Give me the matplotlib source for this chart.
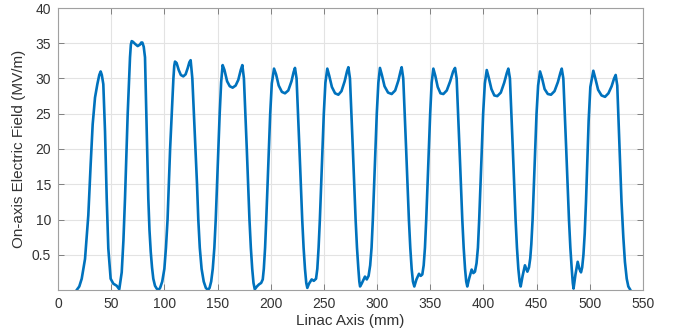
import matplotlib
matplotlib.use("Agg")
import matplotlib.pyplot as plt

# Linac axis position (mm) and on-axis field (MV/m)
z_mm = [
    17.6, 20.0, 22.3, 25.4, 28.5, 30.7, 32.6, 34.8, 37.0, 38.8, 40.1, 41.2, 42.6, 44.2, 45.8, 47.3,
    49.5, 52.0, 55.2, 57.6,
    59.9, 61.5, 63.0, 64.3, 65.5, 66.7, 67.7, 68.5, 69.3, 70.5, 72.5, 74.9, 77.0, 78.3, 79.3,
    80.6, 81.8, 82.6, 83.4, 84.9, 86.0, 87.2, 88.4, 89.6, 91.2, 92.8, 94.5,
    96.0, 98.0, 100.0, 101.5, 103.0, 104.2, 105.4, 107.0, 108.5, 109.3, 110.0,
    111.5, 113.5, 115.5, 117.8, 120.0, 122.0, 123.5, 124.7,
    126.3, 127.8, 129.4, 130.7, 131.9, 133.3, 135.0, 137.0, 139.0, 141.0,
    142.5, 144.0, 145.5, 147.0, 148.3, 149.5, 150.6, 152.0, 153.4, 154.8,
    156.5, 159.0, 161.5, 164.2, 167.0, 169.5, 171.8, 173.3,
    174.8, 176.2, 177.5, 178.8, 180.0, 181.3, 182.6, 183.8, 185.0,
    187.0, 189.0, 191.0, 192.5,
    193.5, 194.7, 195.8, 197.0, 198.2, 199.5, 201.0, 203.1,
    205.0, 207.5, 210.5, 213.4, 216.5, 219.5, 221.5, 222.8,
    224.3, 225.7, 227.0, 228.3, 229.6, 230.9, 232.2, 233.4, 234.4,
    236.0, 238.5, 240.5, 242.6,
    243.8, 245.0, 246.2, 247.4, 248.6, 249.9, 251.4, 253.2,
    255.0, 257.5, 260.5, 263.6, 266.5, 269.5, 271.7, 273.0,
    274.5, 275.9, 277.2, 278.5, 279.8, 281.1, 282.4, 283.3, 284.0,
    285.5, 288.6, 290.3, 292.0,
    293.5, 294.8, 296.0, 297.2, 298.4, 299.7, 301.2, 302.7,
    304.5, 307.0, 310.3, 313.7, 317.0, 320.0, 322.0, 323.1,
    324.6, 326.0, 327.3, 328.6, 329.9, 331.2, 332.5, 333.7, 335.0,
    337.0, 339.4, 341.0, 342.5,
    343.8, 345.0, 346.2, 347.4, 348.6, 349.9, 351.3, 352.9,
    354.7, 357.0, 359.6, 362.3, 365.5, 368.7, 371.5, 373.3,
    374.8, 376.2, 377.5, 378.8, 380.1, 381.4, 382.7, 383.8, 384.8,
    386.5, 388.9, 390.5, 392.0,
    393.5, 394.8, 396.0, 397.2, 398.4, 399.7, 401.3, 403.1,
    405.0, 407.5, 410.2, 413.0, 416.3, 419.5, 422.0, 423.4,
    424.9, 426.3, 427.6, 428.9, 430.2, 431.5, 432.8, 434.0, 435.0,
    436.8, 439.0, 441.3, 442.8,
    444.0, 445.0, 446.2, 447.4, 448.6, 449.9, 451.4, 453.2,
    455.0, 457.5, 460.5, 463.5, 466.8, 470.0, 472.3, 473.6,
    475.1, 476.5, 477.8, 479.1, 480.4, 481.7, 483.0, 484.0, 484.7,
    486.5, 488.6, 490.2, 491.7,
    492.8, 494.0, 495.2, 496.4, 497.6, 498.9, 500.5, 503.3,
    505.2, 507.8, 511.0, 514.3, 517.5, 520.5, 522.8, 524.3,
    525.8, 527.0, 528.4, 529.8, 531.5, 533.0, 534.7, 536.2, 537.8,
]
field_mvm = [
    0.0, 0.5, 1.6, 4.4, 10.6, 17.8, 23.5, 27.3, 29.2, 30.5, 31.0, 30.5, 29.2, 22.5, 13.0, 5.9,
    1.6, 0.9, 0.6, 0.1,
    2.5, 7.0, 13.0, 19.0, 24.9, 29.5, 33.0, 34.8, 35.3, 35.2, 34.9, 34.6, 34.8, 35.1, 35.1,
    34.5, 33.0, 28.0, 22.5, 13.0, 8.5, 5.4, 3.2, 1.6, 0.6, 0.2, 0.0,
    0.3, 1.2, 3.0, 6.0, 10.0, 15.0, 20.0, 25.0, 30.0, 31.8, 32.4,
    32.2, 31.2, 30.5, 30.3, 30.6, 31.5, 32.3, 32.6,
    30.0, 25.0, 20.0, 15.0, 10.0, 6.0, 3.0, 1.2, 0.3, 0.0,
    0.3, 1.2, 3.0, 6.0, 10.0, 15.0, 20.0, 25.0, 29.5, 31.9,
    31.2, 29.6, 28.9, 28.7, 29.0, 29.8, 31.2, 31.9,
    30.0, 25.0, 20.0, 15.0, 10.0, 6.0, 3.0, 1.0, 0.1,
    0.5, 0.8, 1.0, 1.5,
    3.0, 6.0, 10.0, 15.0, 20.0, 25.0, 29.3, 31.4,
    30.6, 29.0, 28.1, 27.9, 28.3, 29.6, 30.9, 31.5,
    30.0, 25.0, 20.0, 15.0, 10.0, 6.0, 3.0, 1.0, 0.3,
    0.9, 1.5, 1.3, 1.6,
    3.0, 6.0, 10.0, 15.0, 20.0, 25.0, 29.4, 31.4,
    30.4, 28.8, 27.9, 27.7, 28.2, 29.6, 31.0, 31.6,
    30.0, 25.0, 20.0, 15.0, 10.0, 6.0, 3.0, 1.2, 0.5,
    0.9, 1.9, 1.5, 2.0,
    3.5, 6.0, 10.0, 15.0, 20.0, 25.0, 29.4, 31.5,
    30.5, 28.9, 28.0, 27.8, 28.3, 29.7, 31.0, 31.6,
    30.0, 25.0, 20.0, 15.0, 10.0, 6.0, 3.0, 1.2, 0.5,
    1.5, 2.3, 2.0, 2.2,
    3.5, 6.0, 10.0, 15.0, 20.0, 25.0, 29.4, 31.4,
    30.4, 28.8, 27.9, 27.8, 28.3, 29.6, 31.0, 31.5,
    30.0, 25.0, 20.0, 15.0, 10.0, 6.0, 3.0, 1.2, 0.5,
    1.6, 2.9, 2.4, 2.6,
    3.8, 6.0, 10.0, 15.0, 20.0, 25.0, 29.3, 31.2,
    30.1, 28.5, 27.6, 27.5, 28.0, 29.4, 30.8, 31.4,
    30.0, 25.0, 20.0, 15.0, 10.0, 6.0, 3.0, 1.2, 0.5,
    2.0, 3.5, 2.6, 3.2,
    4.5, 6.5, 10.0, 15.0, 20.0, 25.0, 29.0, 31.0,
    30.1, 28.5, 27.8, 27.7, 28.2, 29.5, 30.8, 31.4,
    30.0, 25.0, 20.0, 15.0, 10.0, 6.0, 3.0, 1.0, 0.2,
    2.2, 4.0, 3.0, 2.5,
    3.2, 5.0, 8.0, 12.5, 18.0, 24.0, 28.8, 31.1,
    30.0, 28.4, 27.6, 27.4, 27.9, 28.9, 30.0, 30.5,
    29.0, 24.0, 17.8, 12.5, 7.5, 4.0, 1.6, 0.5, 0.1,
]

x_ticks = [0, 50, 100, 150, 200, 250, 300, 350, 400, 450, 500, 550]
y_ticks = [5, 10, 15, 20, 25, 30, 35, 40]
y_tick_labels = ["0.5", "10", "15", "20", "25", "30", "35", "40"]

plt.rcParams['font.family'] = ['Liberation Sans', 'DejaVu Sans']

fig = plt.figure(figsize=(6.77, 3.33), dpi=100)
ax = fig.add_axes([58/677, 1 - 290/333, (643 - 58)/677, (290 - 8)/333])

ax.plot(z_mm, field_mvm, color='#0072BD', lw=1.9, solid_joinstyle='round')

ax.set_xlim(0, 550)
ax.set_ylim(0, 40)
ax.set_xticks(x_ticks)
ax.set_yticks(y_ticks)
ax.set_yticklabels(y_tick_labels)

ax.grid(True, color='#e3e3e3', lw=0.8)
ax.set_axisbelow(True)
for s in ax.spines.values():
    s.set_color('#a0a0a0')
    s.set_linewidth(0.8)
ax.tick_params(direction='in', top=True, right=True, length=4, width=0.7,
               color='#808080', labelsize=10, labelcolor='#333333', pad=5)
ax.set_xlabel('Linac Axis (mm)', fontsize=11, color='#333333', labelpad=2)
ax.set_ylabel('On-axis Electric Field (MV/m)', fontsize=11, color='#333333', labelpad=4)

fig.savefig('out.png', dpi=100)
